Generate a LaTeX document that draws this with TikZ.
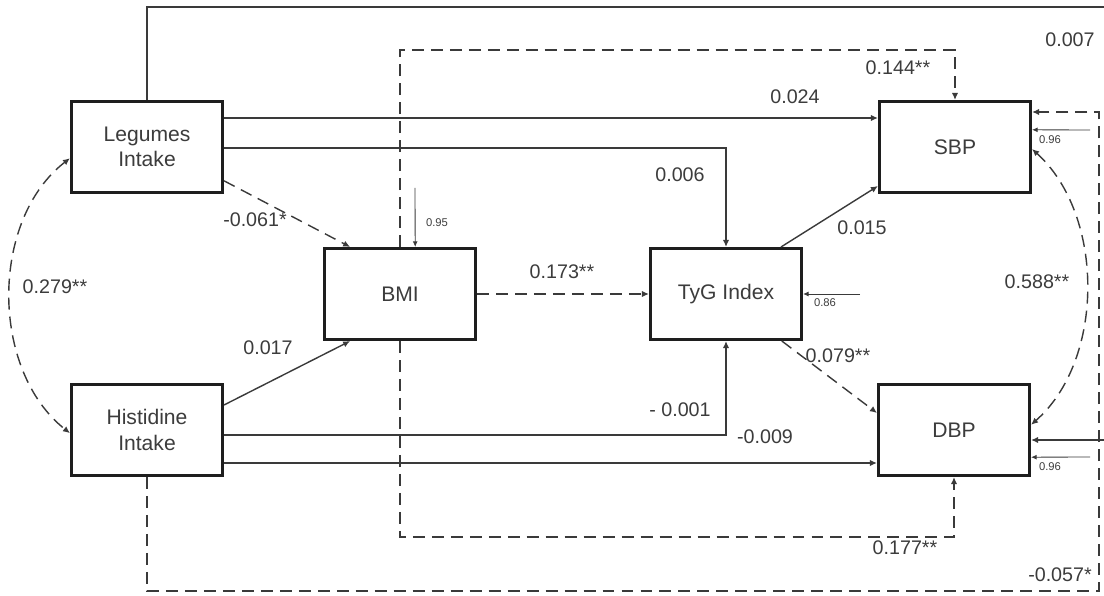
\documentclass[tikz,border=0pt]{standalone}
\usepackage{fontspec}
\setmainfont{Liberation Sans}
\usetikzlibrary{arrows.meta}
\definecolor{PathBorder}{HTML}{1E1E1E}
\definecolor{PathLine}{HTML}{3A3A3A}
\definecolor{PathText}{HTML}{3C3C3C}

\tikzset{
  varbox/.style={draw=PathBorder,fill=white,line width=2pt,minimum width=3.78cm,
                 minimum height=2.28cm,align=center,text=PathText,
                 font=\fontsize{15}{18}\selectfont},
  effect/.style={draw=PathLine,line width=1pt,-{Latex[length=5pt,width=4.5pt]}},
  effdash/.style={effect,dash pattern=on 8.5pt off 5pt},
  covar/.style={effdash,{Latex[length=5pt,width=4.5pt]}-{Latex[length=5pt,width=4.5pt]}},
  resid/.style={draw=PathLine,line width=0.6pt,-{Latex[length=4pt,width=3.5pt]}},
  coef/.style={text=PathText,font=\fontsize{14}{16}\selectfont,inner sep=1pt},
  residlbl/.style={text=PathText,font=\fontsize{8}{9}\selectfont,inner sep=1pt}
}

\begin{document}
\begin{tikzpicture}[x=0.025cm,y=-0.025cm]
  \useasboundingbox (0,0) rectangle (1104,596);

  % observed variables
  \node[varbox] (legumes) at (147,147) {Legumes\\Intake};
  \node[varbox] (histidine) at (147,430) {Histidine\\Intake};
  \node[varbox] (bmi) at (400,294) {BMI};
  \node[varbox] (tyg) at (726,294) {TyG Index};
  \node[varbox] (sbp) at (955,147) {SBP};
  \node[varbox] (dbp) at (954,430) {DBP};

  % free ends of the residual arrows
  \coordinate (bmiRes) at (415,188);
  \coordinate (tygRes) at (860,294);
  \coordinate (sbpRes) at (1090,130);
  \coordinate (dbpRes) at (1090,457);

  % paths from legumes intake
  \draw[effect,line width=1.3pt] (legumes.north) -- (legumes.north |- 0,7) -- (1106,7)
        -- (1106,440) -- (dbp.east |- 0,440);
  \draw[effect] (legumes.east |- 0,118) -- (sbp.west |- 0,118);
  \draw[effect] (legumes.east |- 0,148) -| (tyg.north);
  \draw[effdash] ([yshift=0.33cm]legumes.south east) -- ([xshift=0.68cm]bmi.north west);

  % paths from histidine intake
  \draw[effect] ([yshift=-0.55cm]histidine.north east) -- ([xshift=0.68cm]bmi.south west);
  \draw[effect] (histidine.east |- 0,435) -| (tyg.south);
  \draw[effect] (histidine.east |- 0,463) -- (dbp.west |- 0,463);
  \draw[effdash] (histidine.south) -- (histidine.south |- 0,591) -- (1099,591)
        -- (1099,112) -- (sbp.east |- 0,112);

  % paths from BMI
  \draw[effdash] (bmi.east) -- (tyg.west);
  \draw[effdash] (bmi.north) |- (sbp.north |- 0,50) -- (sbp.north);
  \draw[effdash] (bmi.south) |- (dbp.south |- 0,537) -- (dbp.south);

  % paths from TyG index
  \draw[effect] ([xshift=-0.55cm]tyg.north east) -- ([yshift=0.2cm]sbp.south west);
  \draw[effdash] ([xshift=-0.53cm]tyg.south east) -- ([yshift=-0.75cm]dbp.north west);

  % covariances
  \draw[covar] ([yshift=-0.05cm]sbp.east) .. controls (1105,215) and (1105,360) .. ([yshift=0.13cm]dbp.east);
  \draw[covar] ([yshift=-0.28cm]legumes.west) .. controls (-10,220) and (-10,370) .. ([yshift=-0.08cm]histidine.west);

  % residuals
  \draw[resid] (bmiRes) -- ([xshift=0.38cm]bmi.north);
  \draw[resid] (tygRes) -- (tyg.east);
  \draw[resid] (sbpRes) -- ([yshift=0.43cm]sbp.east);
  \draw[resid] (dbpRes) -- ([yshift=-0.68cm]dbp.east);

  % coefficients
  \node[coef] (c007) at (1070,40) {0.007};
  \node[coef] (c144) at (898,68) {0.144**};
  \node[coef] (c024) at (795,97) {0.024};
  \node[coef] (c006) at (680,175) {0.006};
  \node[coef] (c061) at (255,220) {-0.061*};
  \node[coef] (c015) at (862,228) {0.015};
  \node[coef] (c173) at (562,272) {0.173**};
  \node[coef] (c279) at (55,287) {0.279**};
  \node[coef] (c588) at (1037,282) {0.588**};
  \node[coef] (c017) at (268,348) {0.017};
  \node[coef] (c079) at (838,356) {0.079**};
  \node[coef] (c001) at (680,410) {- 0.001};
  \node[coef] (c009) at (765,437) {-0.009};
  \node[coef] (c177) at (905,548) {0.177**};
  \node[coef] (c057) at (1060,575) {-0.057*};

  \node[residlbl] (r095) at (437,223) {0.95};
  \node[residlbl] (r086) at (825,303) {0.86};
  \node[residlbl] (r096s) at (1050,140) {0.96};
  \node[residlbl] (r096d) at (1050,467) {0.96};
\end{tikzpicture}
\end{document}
